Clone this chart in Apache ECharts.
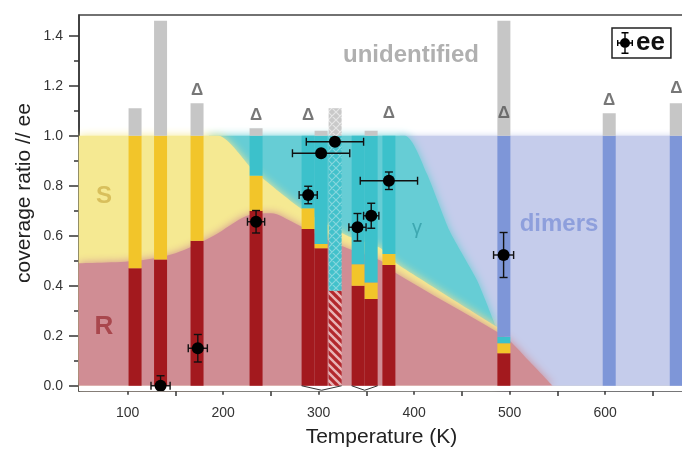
<!DOCTYPE html>
<html><head><meta charset="utf-8">
<script src="https://cdn.jsdelivr.net/npm/echarts@6/dist/echarts.min.js"></script>
<style>html,body{margin:0;padding:0;background:#fff}#c{width:682px;height:454px}</style>
</head><body><div id="c"></div>
<script>
// ---- data ----
const barTemps   = [107.7, 134.4, 172.6, 234.4, 288.9, 302.5, 317.2, 341.3, 354.9, 373.5, 493.9, 604.2, 674.4];
const barR       = [0.47, 0.505, 0.58, 0.70, 0.627, 0.55, 0.38, 0.40, 0.347, 0.483, 0.13, 0, 0];
const barS       = [0.53, 0.495, 0.42, 0.14, 0.083, 0.017, 0, 0.086, 0.066, 0.044, 0.04, 0, 0];
const barGamma   = [0, 0, 0, 0.16, 0.29, 0.433, 0.62, 0.514, 0.587, 0.473, 0.026, 0, 0];
const barDimers  = [0, 0, 0, 0, 0, 0, 0, 0, 0, 0, 0.804, 1.0, 1.0];
const barUnid    = [0.11, 0.46, 0.13, 0.03, 0, 0.02, 0.11, 0, 0.02, 0, 0.46, 0.09, 0.13];
const barHatched = [0, 0, 0, 0, 0, 0, 1, 0, 0, 0, 0, 0, 0];

const eeTemp     = [134.4, 173.4, 234.4, 289.0, 302.5, 317.0, 340.6, 355.0, 373.5, 493.6];
const eeValue    = [0.0, 0.15, 0.656, 0.763, 0.93, 0.976, 0.634, 0.68, 0.82, 0.523];
const eeTempErr  = [10, 10, 9, 9.5, 30, 30, 9, 8, 30, 10.5];
const eeValueErr = [0.04, 0.055, 0.045, 0.035, 0.01, 0.01, 0.055, 0.05, 0.035, 0.09];

const deltaTemps  = [172.6, 234.4, 288.9, 373.5, 493.9, 604.2, 674.4];
const deltaLevels = [1.183, 1.083, 1.083, 1.091, 1.091, 1.143, 1.191];

const regionDimers = [[385, 1.0], [690, 1.0]];
const regionGamma  = [[185, 1.0], [390, 1.0], [413, 0.85], [437, 0.62], [466, 0.42], [487, 0.22]];
const regionS      = [[49, 1.0], [195, 1.0], [232, 0.86], [281, 0.71], [330, 0.6], [365, 0.55], [381, 0.49], [487, 0.235]];
const regionR      = [[49, 0.49], [110, 0.5], [150, 0.53], [190, 0.6], [225, 0.68], [250, 0.69], [275, 0.65], [300, 0.6], [330, 0.55], [365, 0.5], [381, 0.45], [487, 0.215], [500, 0.18], [520, 0.1], [545, 0]];

const bracketGroups = [[4, 6], [7, 8]];   // bar index ranges joined by a bracket

const xMajorTicks = [100, 200, 300, 400, 500, 600];
const xMinorTicks = [150, 250, 350, 450, 550, 650];
const yMajorTicks = [0, 0.2, 0.4, 0.6, 0.8, 1.0, 1.2, 1.4];
const yMinorTicks = [0.1, 0.3, 0.5, 0.7, 0.9, 1.1, 1.3];

// ---- styling ----
const FONT = '"Liberation Sans", Arial, sans-serif';
const BAR_HALF = 6.5;
const X_MIN = 49, X_MAX = 682.5, Y_MIN = -0.021, Y_MAX = 1.483;

function makeHatch(bg, fg, cross, lw) {
  const s = 8, cv = document.createElement('canvas');
  cv.width = cv.height = s;
  const ctx = cv.getContext('2d');
  ctx.fillStyle = bg; ctx.fillRect(0, 0, s, s);
  ctx.strokeStyle = fg; ctx.lineWidth = lw;
  ctx.beginPath();
  for (const k of [-s, 0, s]) {
    ctx.moveTo(k - 1, -1); ctx.lineTo(k + s + 1, s + 1);
    if (cross) { ctx.moveTo(k - 1, s + 1); ctx.lineTo(k + s + 1, -1); }
  }
  ctx.stroke();
  return { image: cv, repeat: 'repeat' };
}

const components = [
  { name: 'R',      vals: barR,      color: '#a3191e', hatch: makeHatch('#e8b4b6', '#b3272c', false, 3.2) },
  { name: 'S',      vals: barS,      color: '#f2c52a', hatch: makeHatch('#f5dc7a', '#f2c52a', false, 3) },
  { name: 'gamma',  vals: barGamma,  color: '#3cc1cb', hatch: makeHatch('#42c1cb', '#86d6dd', true, 1.2) },
  { name: 'dimers', vals: barDimers, color: '#7e96d8', hatch: makeHatch('#9aaee0', '#7e96d8', true, 1.2) },
  { name: 'unid',   vals: barUnid,   color: '#c6c6c6', hatch: makeHatch('#c9c9c9', '#e6e6e6', true, 1.2) }
];

const series = [];

// background regions (filled areas with soft edges)
function regionSeries(data, color, blur, smooth) {
  return {
    type: 'line', data: data, smooth: smooth, symbol: 'none', silent: true, z: 1,
    lineStyle: { opacity: 0 },
    areaStyle: { color: color, opacity: 1, shadowBlur: blur, shadowColor: color },
    clip: true
  };
}
series.push(regionSeries(regionDimers, '#c5cceb', 7, false));
series.push(regionSeries(regionGamma, '#66cdd5', 9, 0.2));
series.push(regionSeries(regionS, '#f5e992', 9, 0.2));
series.push(regionSeries(regionR, '#d08d94', 9, 0.3));
// white strip between zero and the axis line
series.push({
  type: 'line', data: [[X_MIN, 0], [X_MAX, 0]], symbol: 'none', silent: true, z: 2,
  lineStyle: { opacity: 0 }, areaStyle: { color: '#fff', opacity: 1, origin: 'start' }
});

// stacked bars drawn through the axes
let base = barTemps.map(() => 0);
components.forEach(c => {
  const rows = barTemps.map((t, i) => [t, base[i], base[i] + c.vals[i], barHatched[i]]);
  base = base.map((b, i) => b + c.vals[i]);
  series.push({
    type: 'custom', name: 'bar-' + c.name, data: rows, z: 3, silent: true, clip: true,
    encode: { x: 0, y: [1, 2] },
    renderItem: function (params, api) {
      const T = api.value(0), lo = api.value(1), hi = api.value(2), h = api.value(3);
      if (!(hi > lo)) return;
      const p0 = api.coord([T, lo]), p1 = api.coord([T, hi]);
      return {
        type: 'rect',
        shape: { x: p0[0] - BAR_HALF, y: p1[1], width: BAR_HALF * 2, height: p0[1] - p1[1] },
        style: { fill: h ? c.hatch : c.color }
      };
    }
  });
});

// brackets below grouped bars
bracketGroups.forEach(g => {
  const halfK = BAR_HALF / 0.955;
  const l = barTemps[g[0]] - halfK, r = barTemps[g[1]] + halfK;
  series.push({
    type: 'line', data: [[l, 0], [(l + r) / 2, -0.018], [r, 0]], symbol: 'none', silent: true, z: 4,
    lineStyle: { color: '#333', width: 1 }, clip: false
  });
});

// delta markers
series.push({
  type: 'scatter', data: deltaTemps.map((t, i) => [t, deltaLevels[i]]), symbolSize: 0, silent: true, z: 6,
  label: { show: true, position: 'inside', formatter: 'Δ', fontSize: 17, fontWeight: 'bold', color: '#555', fontFamily: FONT }
});

// ee points with x/y error bars
series.push({
  type: 'custom', name: 'ee', z: 8, clip: true,
  itemStyle: { color: '#000' },
  data: eeTemp.map((t, i) => [t, eeValue[i], eeTempErr[i], eeValueErr[i]]),
  encode: { x: 0, y: 1 },
  renderItem: function (params, api) {
    const T = api.value(0), v = api.value(1), dT = api.value(2), dv = api.value(3);
    const c = api.coord([T, v]), l = api.coord([T - dT, v]), r = api.coord([T + dT, v]);
    const t = api.coord([T, v + dv]), b = api.coord([T, v - dv]);
    const cap = 4, st = { stroke: '#111', lineWidth: 1.4, fill: null };
    const ch = [
      { type: 'line', shape: { x1: l[0], y1: c[1], x2: r[0], y2: c[1] }, style: st },
      { type: 'line', shape: { x1: l[0], y1: c[1] - cap, x2: l[0], y2: c[1] + cap }, style: st },
      { type: 'line', shape: { x1: r[0], y1: c[1] - cap, x2: r[0], y2: c[1] + cap }, style: st }
    ];
    if (b[1] - t[1] > 4) {
      ch.push({ type: 'line', shape: { x1: c[0], y1: t[1], x2: c[0], y2: b[1] }, style: st });
      ch.push({ type: 'line', shape: { x1: c[0] - cap, y1: t[1], x2: c[0] + cap, y2: t[1] }, style: st });
      ch.push({ type: 'line', shape: { x1: c[0] - cap, y1: b[1], x2: c[0] + cap, y2: b[1] }, style: st });
    }
    ch.push({ type: 'circle', shape: { cx: c[0], cy: c[1], r: 6 }, style: { fill: '#000' } });
    return { type: 'group', children: ch };
  }
});

const axisLine = { show: true, lineStyle: { color: '#333', width: 1.5 } };
const tickLine = { color: '#333', width: 1.5 };

const option = {
  animation: false,
  backgroundColor: '#fff',
  textStyle: { fontFamily: FONT },
  grid: { left: 79, top: 15, right: -2, bottom: 63, show: true, borderColor: '#444', borderWidth: 1.5,
          backgroundColor: 'transparent', containLabel: false, outerBoundsMode: 'none' },
  legend: {
    data: [{ name: 'ee', icon: 'path://M7.3,0H8.7V22H7.3ZM4.5,0H11.5V1.4H4.5ZM4.5,20.6H11.5V22H4.5ZM0,10.3H16V11.7H0ZM0,8H1.4V14H0ZM14.6,8H16V14H14.6ZM3,11A5,5 0 1 1 13,11A5,5 0 1 1 3,11Z' }],
    left: 612, top: 28, itemWidth: 16, itemHeight: 22, itemGap: 0,
    padding: [2, 6, 2, 5], borderColor: '#222', borderWidth: 1.5, selectedMode: false,
    textStyle: { fontSize: 26, fontWeight: 'bold', color: '#111', fontFamily: FONT, padding: [0, 0, 0, -2] }
  },
  xAxis: [
    { type: 'value', min: X_MIN, max: X_MAX, position: 'bottom',
      name: 'Temperature (K)', nameLocation: 'middle', nameGap: 36,
      nameTextStyle: { fontSize: 21, color: '#222', fontFamily: FONT },
      axisLine: axisLine,
      axisTick: { show: true, length: 9, customValues: xMajorTicks, lineStyle: tickLine },
      axisLabel: { customValues: xMajorTicks, fontSize: 14, color: '#333', margin: 15, fontFamily: FONT },
      splitLine: { show: false } },
    { type: 'value', min: X_MIN, max: X_MAX, position: 'top', offset: -376,
      axisLine: { show: false },
      axisTick: { show: true, inside: true, length: 5, customValues: xMinorTicks, lineStyle: tickLine },
      axisLabel: { show: false }, splitLine: { show: false } }
  ],
  yAxis: [
    { type: 'value', min: Y_MIN, max: Y_MAX, position: 'left',
      axisLine: axisLine,
      axisTick: { show: true, length: 10, customValues: yMajorTicks, lineStyle: tickLine },
      axisLabel: { customValues: yMajorTicks, formatter: v => v.toFixed(1), fontSize: 14, color: '#333', margin: 16, fontFamily: FONT },
      splitLine: { show: false } },
    { type: 'value', min: Y_MIN, max: Y_MAX, position: 'right', offset: -605,
      axisLine: { show: false },
      axisTick: { show: true, inside: true, length: 5, customValues: yMinorTicks, lineStyle: tickLine },
      axisLabel: { show: false }, splitLine: { show: false } }
  ],
  graphic: [
    { type: 'text', x: 24, y: 193, rotation: Math.PI / 2, z: 10,
      style: { text: 'coverage ratio // ee', font: '21px ' + FONT, fill: '#222', align: 'center', verticalAlign: 'middle', textAlign: 'center', textVerticalAlign: 'middle' } },
    { type: 'text', x: 411, y: 55, z: 10,
      style: { text: 'unidentified', font: 'bold 24px ' + FONT, fill: '#b0b0b0', align: 'center', verticalAlign: 'middle', textAlign: 'center', textVerticalAlign: 'middle' } },
    { type: 'text', x: 559, y: 224, z: 10,
      style: { text: 'dimers', font: 'bold 24px ' + FONT, fill: '#8e9fdc', align: 'center', verticalAlign: 'middle', textAlign: 'center', textVerticalAlign: 'middle' } },
    { type: 'text', x: 104, y: 196, z: 10,
      style: { text: 'S', font: 'bold 24px ' + FONT, fill: '#d8bf5c', align: 'center', verticalAlign: 'middle', textAlign: 'center', textVerticalAlign: 'middle' } },
    { type: 'text', x: 104, y: 327, z: 10,
      style: { text: 'R', font: 'bold 26px ' + FONT, fill: '#a9474d', align: 'center', verticalAlign: 'middle', textAlign: 'center', textVerticalAlign: 'middle' } },
    { type: 'text', x: 417, y: 228, z: 10,
      style: { text: 'γ', font: '20px ' + FONT, fill: '#3ea8b1', align: 'center', verticalAlign: 'middle', textAlign: 'center', textVerticalAlign: 'middle' } }
  ],
  series: series
};

const chart = echarts.init(document.getElementById('c'), null, { renderer: 'canvas' });
chart.setOption(option);
</script>
</body></html>
